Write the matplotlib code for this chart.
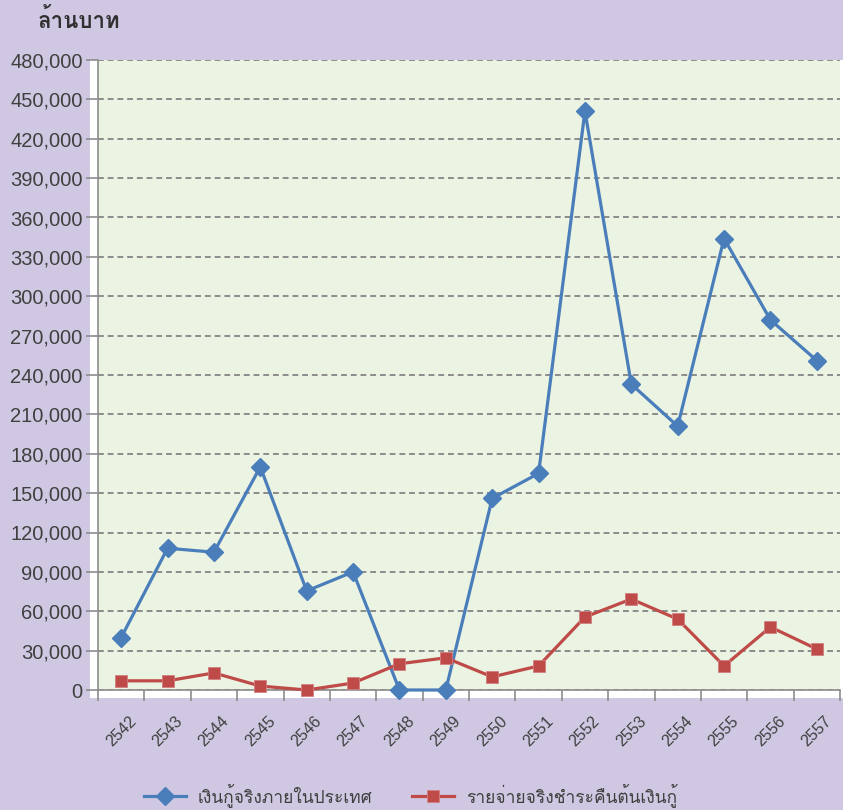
import matplotlib
matplotlib.use("Agg")
import matplotlib.pyplot as plt
import matplotlib.transforms as mtransforms
from matplotlib import font_manager
from matplotlib.ft2font import FT2Font
from matplotlib.patches import Rectangle
from matplotlib.ticker import FuncFormatter, MultipleLocator

years = ["2542", "2543", "2544", "2545", "2546", "2547", "2548", "2549",
         "2550", "2551", "2552", "2553", "2554", "2555", "2556", "2557"]
domestic_loans = [40000, 108000, 105000, 170000, 75500, 90000, 0, 0,
                  146000, 165000, 441000, 233000, 201000, 344000, 282000, 251000]
principal_repay = [7000, 7000, 13000, 3000, 0, 5300, 20000, 24500,
                   10000, 18300, 55600, 69300, 54000, 18300, 48000, 31200]
series_names = ["เงินกู้จริงภายในประเทศ", "รายจ่ายจริงชำระคืนต้นเงินกู้"]
unit_label = "ล้านบาท"


def find_thai_font():
    for f in font_manager.fontManager.ttflist:
        try:
            ft = FT2Font(f.fname)
            if 0x0E01 in ft.get_charmap():
                return f.name
        except Exception:
            pass
    return None


thai = find_thai_font()
thai_family = [thai, "DejaVu Sans"] if thai else ["DejaVu Sans"]
plt.rcParams["font.family"] = ["Liberation Sans", "DejaVu Sans"]

W, H = 843, 810
fig = plt.figure(figsize=(W / 100, H / 100), dpi=100)
fig.patch.set_facecolor("#D0C8E2")

# white frame behind plot area
frame = Rectangle((90 / W, (H - 698) / H), (843 - 90) / W, (698 - 60) / H,
                  transform=fig.transFigure, facecolor="white",
                  edgecolor="none", zorder=-5)
fig.patches.append(frame)

ax = fig.add_axes([98 / W, (H - 690) / H, (840 - 98) / W, (690 - 60) / H])
ax.set_zorder(2)
ax.set_facecolor("#EBF3E2")

x = list(range(len(years)))
ax.plot(x, domestic_loans, color="#4A7EBB", lw=2.3, marker="D", markersize=9.5,
        label=series_names[0], zorder=3, clip_on=False)
ax.plot(x, principal_repay, color="#BE4B48", lw=2.3, marker="s", markersize=9,
        markeredgecolor="#D08080", markeredgewidth=0.6,
        label=series_names[1], zorder=3, clip_on=False)

ax.set_xlim(-0.5, len(years) - 0.5)
ax.set_ylim(0, 480000)
ax.yaxis.set_major_locator(MultipleLocator(30000))
ax.yaxis.set_major_formatter(FuncFormatter(lambda v, p: f"{int(v):,}"))
ax.grid(axis="y", color="#8C8C8C", linestyle=(0, (3, 2)), lw=1.4)
ax.set_axisbelow(True)

ax.set_xticks([i - 0.5 for i in range(len(years) + 1)], minor=False)
ax.set_xticklabels([])
ax.set_xticks(x, minor=True)
ax.set_xticklabels(years, minor=True, rotation=45, ha="center", va="top",
                   fontsize=11.5, color="#404040")
offset = mtransforms.ScaledTranslation(4 / 100, 0, fig.dpi_scale_trans)
for lbl in ax.get_xticklabels(minor=True):
    lbl.set_transform(lbl.get_transform() + offset)
ax.tick_params(axis="x", which="minor", length=0, pad=17)
ax.tick_params(axis="x", which="major", length=8, color="#8C8C8C", width=1.2)
ax.tick_params(axis="y", length=9, color="#8C8C8C", width=1.2,
               labelsize=14.5, labelcolor="#404040", pad=2)

for s in ["top", "right"]:
    ax.spines[s].set_visible(False)
for s in ["left", "bottom"]:
    ax.spines[s].set_color("#8C8C8C")
    ax.spines[s].set_linewidth(1.2)

fig.text(38 / W, 1 - 20 / H, unit_label, fontsize=16, fontweight="bold",
         color="#303030", va="center", ha="left", family=thai_family)

leg = fig.legend(loc="center", bbox_to_anchor=(0.487, 1 - 795 / H), ncol=2,
                 frameon=False, prop={"family": thai_family, "size": 12.5},
                 handlelength=2.4, columnspacing=2.3, handletextpad=0.7)
for t in leg.get_texts():
    t.set_color("#404040")

fig.savefig("out.png", dpi=100, facecolor=fig.get_facecolor())
